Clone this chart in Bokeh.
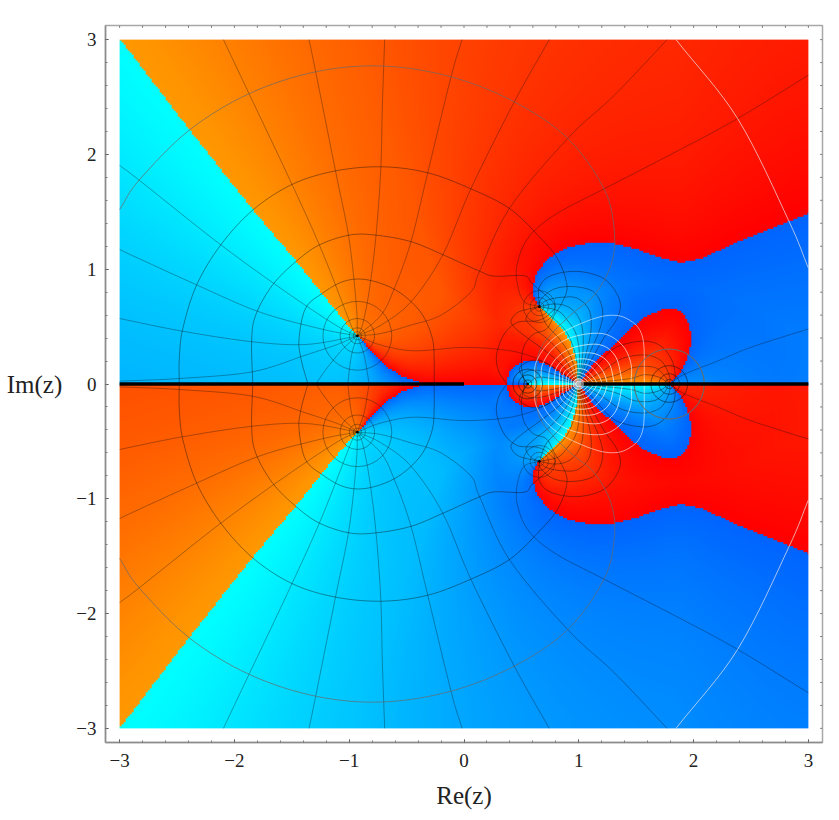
import numpy as np
from bokeh.plotting import figure
from bokeh.models import FixedTicker, Range1d
from bokeh.embed import file_html
from bokeh.resources import INLINE

# ---- values (upper half plane; the lower half is its mirror) ----
major_ticks = [-3, -2, -1, 0, 1, 2, 3]
minor_ticks = [round(-3 + 0.2 * i, 1) for i in range(31)]
tick_labels = {-3: "\u22123", -2: "\u22122", -1: "\u22121", 0: "0", 1: "1", 2: "2", 3: "3"}

pole_a = (-0.929, 0.42)
pole_b = (0.656, 0.674)
pole_c = (0.555, 0.0)
pole_d = (1.788, 0.0)
centre = (0.996, 0.0)

# phase jumps from orange to cyan along these
orange_cyan_left = [(-3.0, 3.0), (-2.395, 2.21), (-1.844, 1.515), (-1.466, 1.065), (-1.234, 0.774), (-0.972, 0.455), pole_a]
orange_cyan_right = [pole_b, (0.743, 0.595), (0.845, 0.494), (0.932, 0.348), (0.975, 0.203), centre]
orange_cyan_axis = [pole_c, centre, pole_d]
# phase jumps from red to blue along these
red_blue_left = [pole_a, (-0.80, 0.266), (-0.682, 0.15), (-0.537, 0.063), (-0.392, 0.02), (-0.33, 0.0)]
red_blue_axis = [(-0.33, 0.0), (0.369, 0.0), pole_c]
red_blue_lobe = [(0.369, 0.0), (0.38, 0.06), (0.41, 0.13), (0.497, 0.19), (0.584, 0.2), (0.67, 0.19), (0.757, 0.145), (0.873, 0.073), centre]
red_blue_top = [pole_b, (0.607, 0.755), (0.598, 0.842), (0.627, 0.958), (0.729, 1.089), (0.874, 1.176), (1.077, 1.225),
                (1.28, 1.225), (1.484, 1.176), (1.687, 1.103), (1.89, 1.051), (2.09, 1.10), (2.352, 1.224), (2.70, 1.363), (3.0, 1.485)]
red_blue_petal = [centre, (1.135, 0.189), (1.28, 0.319), (1.425, 0.465), (1.57, 0.581), (1.716, 0.645), (1.832, 0.659),
                  (1.905, 0.61), (1.963, 0.494), (1.972, 0.348), (1.934, 0.203), (1.861, 0.073), pole_d]
right_falloff = 0.22
left_reach = 1.8
left_shape = 1.4

# level curves, upper half
level_curves = {
    "r5": [(-1.36, 0), (-1.42, 0.22), (-1.437, 0.397), (-1.38, 0.66), (-1.234, 0.79), (-1.06, 0.89), (-0.885, 0.913), (-0.68, 0.86),
           (-0.51, 0.76), (-0.36, 0.6), (-0.276, 0.397), (-0.26, 0.22), (-0.26, 0)],
    "r6": [(-1.84, 0), (-1.85, 0.37), (-1.815, 0.6), (-1.67, 0.86), (-1.466, 1.065), (-1.263, 1.21), (-1.0, 1.297), (-0.77, 1.297),
           (-0.462, 1.24), (-0.17, 1.12), (0.119, 0.99), (0.264, 0.94), (0.525, 0.943), (0.598, 0.87), (0.787, 0.697), (0.743, 0.61),
           (0.642, 0.552), (0.468, 0.537), (0.351, 0.436), (0.285, 0.261), (0.3, 0.116), (0.372, 0)],
    "r7": [(-2.48, 0), (-2.48, 0.22), (-2.45, 0.48), (-2.33, 0.86), (-2.12, 1.21), (-1.84, 1.515), (-1.495, 1.74), (-1.117, 1.857),
           (-0.71, 1.892), (-0.316, 1.84), (0.061, 1.70), (0.395, 1.53), (0.64, 1.30), (0.816, 1.09), (0.897, 0.86), (0.86, 0.72),
           (0.787, 0.6), (0.72, 0.48), (0.6, 0.43), (0.52, 0.32), (0.5, 0.16), (0.531, 0)],
}
level_gray = [(-3.0, 1.52), (-2.83, 1.776), (-2.395, 2.21), (-1.87, 2.53), (-1.29, 2.72), (-0.71, 2.77), (-0.113, 2.676), (0.438, 2.458),
              (0.903, 2.14), (1.22, 1.70), (1.31, 1.326), (1.28, 1.036), (1.135, 0.774), (0.95, 0.62), (0.775, 0.45), (0.653, 0.274), (0.62, 0)]
level_white_outer = [(1.847, 3.0), (2.385, 2.31), (2.83, 1.42), (3.0, 1.01)]

white_rings = [
    [(0.618, 0), (0.627, 0.186), (0.758, 0.377), (0.976, 0.508), (1.237, 0.595), (1.426, 0.566), (1.556, 0.407), (1.571, 0)],
    [(0.671, 0), (0.685, 0.174), (0.801, 0.334), (0.99, 0.421), (1.222, 0.436), (1.382, 0.334), (1.455, 0.174), (1.455, 0)],
    [(0.735, 0), (0.752, 0.145), (0.845, 0.261), (0.99, 0.328), (1.193, 0.34), (1.324, 0.232), (1.382, 0)],
    [(0.787, 0), (0.801, 0.131), (0.874, 0.218), (0.99, 0.267), (1.15, 0.261), (1.266, 0.174), (1.31, 0)],
    [(0.831, 0), (0.839, 0.116), (0.903, 0.183), (0.99, 0.218), (1.121, 0.203), (1.208, 0.116), (1.252, 0)],
    [(0.859, 0), (0.868, 0.096), (0.926, 0.145), (0.99, 0.174), (1.092, 0.16), (1.164, 0.087), (1.208, 0)],
    [(0.889, 0), (0.897, 0.073), (0.947, 0.116), (0.996, 0.136), (1.071, 0.116), (1.127, 0.058), (1.164, 0)],
    [(0.909, 0), (0.918, 0.058), (0.961, 0.093), (0.996, 0.102), (1.054, 0.081), (1.106, 0.035), (1.13, 0)],
    [(0.932, 0), (0.941, 0.044), (0.976, 0.067), (1.008, 0.073), (1.054, 0.044), (1.1, 0)],
    [(0.955, 0), (0.961, 0.029), (0.99, 0.044), (1.019, 0.041), (1.071, 0)],
    [(0.97, 0), (0.979, 0.017), (0.996, 0.023), (1.025, 0.017), (1.048, 0)],
]
white_ring_alpha = [0.55, 0.6, 0.65, 0.68, 0.7, 0.72, 0.75, 0.75, 0.75, 0.75, 0.75]

# phase curves, upper half
far_phase_curves = [
    [(-3.005, 1.907), (-2.83, 1.776), (-2.134, 1.224), (-1.553, 0.803), (-1.118, 0.513), pole_a],
    [(-3.005, 1.172), (-2.337, 0.867), (-1.786, 0.629), (-1.263, 0.484), (-0.972, 0.426), pole_a],
    [(-3.005, 0.571), (-2.453, 0.46), (-1.844, 0.368), (-1.379, 0.344), (-0.972, 0.41), pole_a],
    [(-3.0, 0.025), (-2.48, 0.048), (-1.844, 0.106), (-1.379, 0.252), (-1.118, 0.339), (-0.972, 0.4), pole_a],
    [(-1.29, 0), (-1.2, 0.13), (-1.06, 0.3), pole_a],
    [(-1.013, 0), (-0.98, 0.25), pole_a],
    [(-0.826, 0), (-0.87, 0.25), pole_a],
    [(-2.096, 3.0), (-1.873, 2.53), (-1.495, 1.732), (-1.234, 1.15), (-0.972, 0.484), pole_a],
    [(-1.35, 3.0), (-1.292, 2.72), (-1.118, 1.849), (-1.002, 1.268), (-0.938, 0.687), pole_a],
    [(-0.691, 3.0), (-0.711, 2.43), (-0.726, 1.849), (-0.769, 1.268), (-0.827, 0.803), (-0.885, 0.513), pole_a],
    [(-0.017, 3.0), (-0.113, 2.676), (-0.316, 1.84), (-0.462, 1.239), (-0.607, 0.832), (-0.723, 0.6), pole_a],
    [(0.743, 3.0), (0.438, 2.458), (0.061, 1.703), (-0.186, 1.123), (-0.462, 0.716), (-0.723, 0.513), pole_a],
    [(1.77, 3.0), (1.31, 2.516), (0.903, 2.139), (0.395, 1.529), (0.134, 0.977), (0.061, 0.803), (-0.2, 0.6), (-0.462, 0.513), (-0.723, 0.44), pole_a],
    [(3.0, 2.69), (2.38, 2.31), (1.86, 2.03), (1.22, 1.70), (0.787, 1.471), (0.555, 1.268), (0.462, 1.036), (0.467, 0.861), (0.525, 0.716), pole_b],
    [pole_a, (-0.723, 0.339), (-0.433, 0.289), (-0.026, 0.318), (0.293, 0.304), (0.526, 0.261), (0.729, 0.174), centre],
    [(3.0, 0.48), (2.5, 0.32), (2.21, 0.2), (1.92, 0.085), pole_d],
]
near_phase_curves = [
    [centre, (1.106, 0.203), (1.222, 0.407), (1.339, 0.581), (1.353, 0.74), (1.222, 0.915), (0.99, 0.981), (0.758, 0.944), (0.656, 0.842), pole_b],
    [centre, (1.092, 0.261), (1.179, 0.465), (1.208, 0.639), (1.135, 0.798), (0.961, 0.848), (0.787, 0.828), (0.671, 0.74), pole_b],
    [centre, (1.063, 0.261), (1.106, 0.465), (1.092, 0.639), (0.99, 0.746), (0.845, 0.755), (0.714, 0.726), pole_b],
    [centre, (1.034, 0.261), (1.034, 0.465), (0.99, 0.595), (0.903, 0.674), (0.787, 0.697), pole_b],
    [centre, (1.005, 0.261), (0.976, 0.436), (0.903, 0.552), (0.816, 0.639), pole_b],
    [centre, (0.976, 0.232), (0.903, 0.436), (0.787, 0.566), pole_b],
    [centre, (0.932, 0.232), (0.831, 0.392), (0.714, 0.523), pole_b],
    [centre, (0.889, 0.203), (0.758, 0.363), (0.598, 0.494), (0.54, 0.566), (0.584, 0.639), pole_b],
    [centre, (0.845, 0.174), (0.685, 0.305), (0.526, 0.421), (0.439, 0.494), (0.41, 0.552), (0.468, 0.624), (0.598, 0.662), pole_b],
    [centre, (0.845, 0.102), (0.7, 0.189), (0.584, 0.203), (0.482, 0.131), pole_c],
    [centre, (0.816, 0.073), (0.671, 0.116), (0.569, 0.116), (0.511, 0.073), pole_c],
    [centre, (0.787, 0.044), (0.642, 0.058), pole_c],
    [centre, (1.106, 0.102), (1.28, 0.29), (1.426, 0.354), (1.6, 0.372), (1.73, 0.319), (1.818, 0.189), (1.838, 0.044), pole_d],
    [centre, (1.193, 0.102), (1.368, 0.218), (1.571, 0.253), (1.716, 0.203), (1.789, 0.073), pole_d],
    [centre, (1.31, 0.073), (1.484, 0.145), (1.658, 0.145), (1.745, 0.073), pole_d],
    [centre, (1.426, 0.044), (1.571, 0.081), (1.702, 0.058), pole_d],
]

ring_radii_a = [0.035, 0.07, 0.15, 0.3]
ring_radii_b = [0.04, 0.08, 0.14]
ring_radii_c = [0.035, 0.08, 0.13]
ring_radii_d = [0.04, 0.09, 0.16]
ring_gray_d = [0.305]

cut_left_x = [-3.0, 0.0]
cut_right_x = [1.0, 3.0]
cut_y = [0.0, 0.0]

# colour ends
RED, ORANGE = (255, 0, 0), (255, 152, 0)
BLUE, CYAN = (0, 100, 255), (0, 255, 255)


# ---- painting the phase field from the boundaries above ----
def seg_dist(X, Y, line):
    pts = np.array(line, float)
    out = np.full(X.shape, np.inf)
    for (x0, y0), (x1, y1) in zip(pts[:-1], pts[1:]):
        dx, dy = x1 - x0, y1 - y0
        t = np.clip(((X - x0) * dx + (Y - y0) * dy) / max(dx * dx + dy * dy, 1e-12), 0, 1)
        out = np.minimum(out, np.hypot(X - x0 - t * dx, Y - y0 - t * dy))
    return out


def inside(X, Y, poly):
    pts = np.array(poly, float)
    out = np.zeros(X.shape, bool)
    for (x0, y0), (x1, y1) in zip(pts, np.roll(pts, -1, axis=0)):
        if y0 == y1:
            continue
        cond = (y0 > Y) != (y1 > Y)
        out ^= cond & (X < (x1 - x0) * (Y - y0) / (y1 - y0) + x0)
    return out


N = 345
axis_cells = -3 + (np.arange(N) + 0.5) * 6 / N
X, Yfull = np.meshgrid(axis_cells, axis_cells)
Y = np.abs(Yfull)
d_left = seg_dist(X, Y, orange_cyan_left)
d_right = np.minimum(seg_dist(X, Y, orange_cyan_right), seg_dist(X, Y, orange_cyan_axis))
d1 = np.minimum(left_reach * (d_left / left_reach) ** left_shape, d_right * (1 + d_right / right_falloff))
d0 = np.minimum.reduce([seg_dist(X, Y, l) for l in (red_blue_left, red_blue_axis, red_blue_lobe, red_blue_top, red_blue_petal)])
s = d0 / (d0 + d1 + 1e-9)

warm_big = ([(-3.0, 3.0), (3.0, 3.0)] + red_blue_top[::-1] + orange_cyan_right + red_blue_lobe[::-1]
            + red_blue_left[::-1] + orange_cyan_left[::-1][1:])
warm_up = inside(X, Y, warm_big) | inside(X, Y, red_blue_petal)
warm = np.where(Yfull >= 0, warm_up, ~warm_up)

rgba = np.zeros((N, N, 4), dtype=np.uint8)
for c in range(3):
    rgba[..., c] = np.where(warm, RED[c] + (ORANGE[c] - RED[c]) * s, BLUE[c] + (CYAN[c] - BLUE[c]) * s)
rgba[..., 3] = 255
view = np.zeros((N, N), dtype=np.uint32)
view.view(dtype=np.uint8).reshape((N, N, 4))[:] = rgba


def smooth(line, steps=8):
    pts = np.array(line, float)
    p = np.vstack([2 * pts[0] - pts[1], pts, 2 * pts[-1] - pts[-2]])
    out = []
    for i in range(1, len(p) - 2):
        for t in np.linspace(0, 1, steps, endpoint=False):
            out.append(0.5 * (2 * p[i] + (p[i + 1] - p[i - 1]) * t + (2 * p[i - 1] - 5 * p[i] + 4 * p[i + 1] - p[i + 2]) * t ** 2
                              + (3 * p[i] - p[i - 1] - 3 * p[i + 1] + p[i + 2]) * t ** 3))
    out.append(pts[-1])
    return np.clip(np.array(out), [-3, -3], [3, 3])


def both_halves(lines):
    xs, ys = [], []
    for line in lines:
        sm = smooth(line)
        xs += [sm[:, 0], sm[:, 0]]
        ys += [sm[:, 1], -sm[:, 1]]
    return xs, ys


p = figure(width=831, height=814, output_backend="svg", toolbar_location=None,
           x_range=Range1d(-3.123, 3.123), y_range=Range1d(-3.123, 3.123),
           min_border_left=105, min_border_right=9, min_border_top=25, min_border_bottom=72,
           x_axis_label="Re(z)", y_axis_label="Im(z)")
p.xgrid.visible = False
p.ygrid.visible = False
p.outline_line_color = "#a8a8a8"
p.outline_line_width = 1.5
p.background_fill_color = "white"

p.image_rgba(image=[view], x=-3, y=-3, dw=6, dh=6)

xs, ys = both_halves(far_phase_curves)
p.multi_line(xs, ys, line_color="#101010", line_alpha=0.33, line_width=1)
xs, ys = both_halves(near_phase_curves)
p.multi_line(xs, ys, line_color="#101010", line_alpha=0.42, line_width=1)
xs, ys = both_halves(list(level_curves.values()))
p.multi_line(xs, ys, line_color="#101010", line_alpha=0.42, line_width=1)
xs, ys = both_halves([level_gray])
p.multi_line(xs, ys, line_color="#6a6a6a", line_alpha=0.7, line_width=1)
xs, ys = both_halves([level_white_outer])
p.multi_line(xs, ys, line_color="#e8e8e8", line_alpha=0.7, line_width=1)
xs, ys = both_halves(white_rings)
p.multi_line(xs, ys, line_color="white", line_alpha=[a for a in white_ring_alpha for _ in (0, 1)], line_width=1)


def rings(center, radii, color="#101010", alpha=0.36):
    for sign in (1, -1):
        p.circle(x=[center[0]] * len(radii), y=[sign * center[1]] * len(radii), radius=radii,
                 fill_color=None, line_color=color, line_alpha=alpha, line_width=1)


rings(pole_a, ring_radii_a)
rings(pole_b, ring_radii_b)
rings(pole_c, ring_radii_c, alpha=0.3)
rings(pole_d, ring_radii_d, alpha=0.28)
rings(pole_d, ring_gray_d, "#6a6a6a", 0.7)

p.line(cut_left_x, cut_y, line_color="black", line_width=3.6)
p.line(cut_right_x, cut_y, line_color="black", line_width=3.6)

pole_x = [pole_a[0], pole_a[0], pole_b[0], pole_b[0], pole_c[0], pole_d[0]]
pole_y = [pole_a[1], -pole_a[1], pole_b[1], -pole_b[1], pole_c[1], pole_d[1]]
p.circle(x=pole_x, y=pole_y, radius=[0.012] * 6, fill_color="black", line_color=None, fill_alpha=0.9)
p.circle(x=[centre[0]] * 2, y=[centre[1]] * 2, radius=[0.05, 0.025], fill_color="white", fill_alpha=0.45, line_color=None)

# inward ticks on the top and right sides of the frame
edge = 3.123
p.segment(x0=minor_ticks, y0=[edge] * 31, x1=minor_ticks, y1=[edge - 0.02] * 31, line_color="#777777", line_width=1)
p.segment(x0=[edge] * 31, y0=minor_ticks, x1=[edge - 0.02] * 31, y1=minor_ticks, line_color="#777777", line_width=1)


def style(ax):
    ax.ticker = FixedTicker(ticks=major_ticks, minor_ticks=minor_ticks)
    ax.axis_line_color = "#8c8c8c"
    ax.axis_line_width = 1.5
    ax.major_tick_line_color = "#333333"
    ax.minor_tick_line_color = "#777777"
    ax.major_tick_in = 3
    ax.major_tick_out = 0
    ax.minor_tick_in = 2
    ax.minor_tick_out = 0
    ax.major_label_overrides = tick_labels
    ax.major_label_text_font = "Liberation Serif"
    ax.major_label_text_font_size = "19px"
    ax.major_label_text_color = "#222222"
    ax.axis_label_text_font = "Liberation Serif"
    ax.axis_label_text_font_size = "25px"
    ax.axis_label_text_font_style = "normal"
    ax.axis_label_text_color = "#222222"


style(p.xaxis[0])
style(p.yaxis[0])
p.xaxis[0].major_label_standoff = 11
p.yaxis[0].major_label_standoff = 9
p.xaxis[0].axis_label_standoff = 12
p.yaxis[0].axis_label_orientation = "horizontal"
p.yaxis[0].axis_label_standoff = 11

open("out.html", "w").write(file_html(p, INLINE))
